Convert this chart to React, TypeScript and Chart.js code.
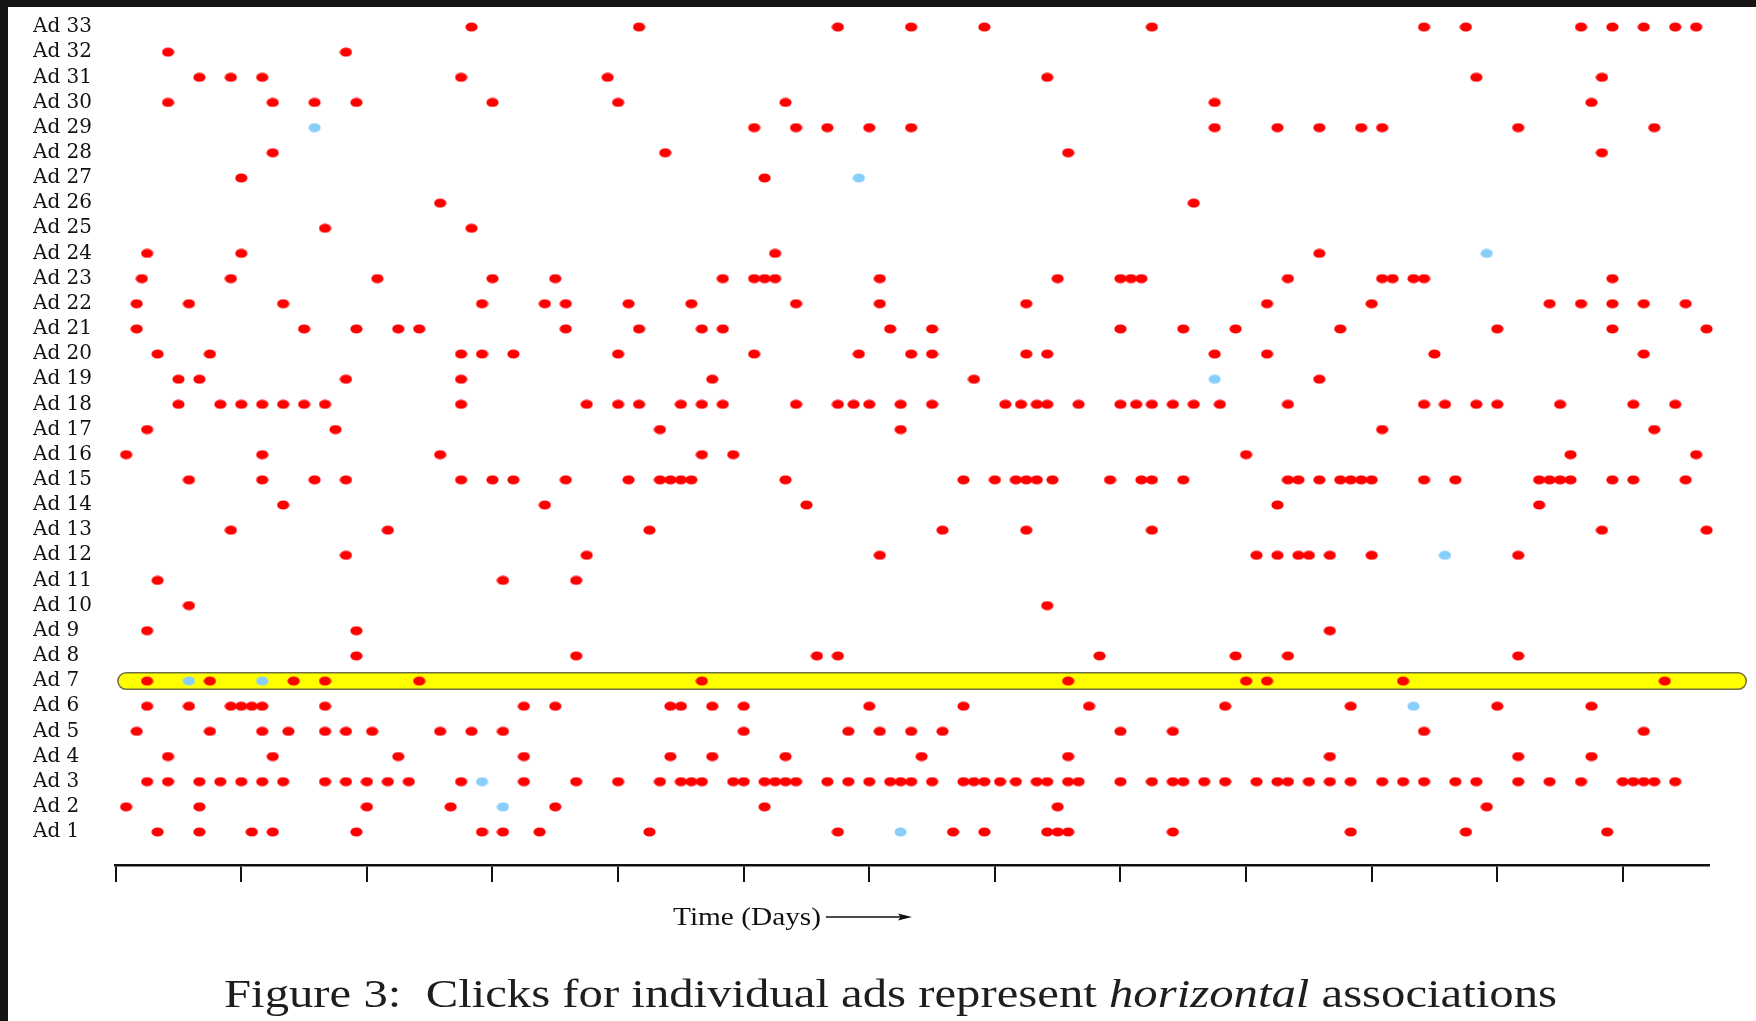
import React, { useEffect, useRef } from 'react';
import { Chart, registerables } from 'chart.js';

Chart.register(...registerables);

// Click times per ad (x in time units, a tick every 12 units)
const ad01 = [4, 8, 13, 15, 23, 35, 37, 40.5, 51, 69, 80, 83, 89, 90, 91, 101, 118, 129, 142.5];
const ad02 = [1, 8, 24, 32, 42, 62, 90, 131];
const ad03 = [3, 5, 8, 10, 12, 14, 16, 20, 22, 24, 26, 28, 33, 39, 44, 48, 52, 54, 55, 56, 59, 60, 62, 63, 64, 65, 68, 70, 72, 74, 75, 76, 78, 81, 82, 83, 84.5, 86, 88, 89, 91, 92, 96, 99, 101, 102, 104, 106, 109, 111, 112, 114, 116, 118, 121, 123, 125, 128, 130, 134, 137, 140, 144, 145, 146, 147, 149];
const ad04 = [5, 15, 27, 39, 53, 57, 64, 77, 91, 116, 134, 141];
const ad05 = [2, 9, 14, 16.5, 20, 22, 24.5, 31, 34, 37, 60, 70, 73, 76, 79, 96, 101, 125, 146];
const ad06 = [3, 7, 11, 12, 13, 14, 20, 39, 42, 53, 54, 57, 60, 72, 81, 93, 106, 118, 132, 141];
const ad07 = [3, 9, 17, 20, 29, 56, 91, 108, 110, 123, 148];
const ad08 = [23, 44, 67, 69, 94, 107, 112, 134];
const ad09 = [3, 23, 116];
const ad10 = [7, 89];
const ad11 = [4, 37, 44];
const ad12 = [22, 45, 73, 109, 111, 113, 114, 116, 120, 134];
const ad13 = [11, 26, 51, 79, 87, 99, 142, 152];
const ad14 = [16, 41, 66, 111, 136];
const ad15 = [7, 14, 19, 22, 33, 36, 38, 43, 49, 52, 53, 54, 55, 64, 81, 84, 86, 87, 88, 89.5, 95, 98, 99, 102, 112, 113, 115, 117, 118, 119, 120, 125, 128, 136, 137, 138, 139, 143, 145, 150];
const ad16 = [1, 14, 31, 56, 59, 108, 139, 151];
const ad17 = [3, 21, 52, 75, 121, 147];
const ad18 = [6, 10, 12, 14, 16, 18, 20, 33, 45, 48, 50, 54, 56, 58, 65, 69, 70.5, 72, 75, 78, 85, 86.5, 88, 89, 92, 96, 97.5, 99, 101, 103, 105.5, 112, 125, 127, 130, 132, 138, 145, 149];
const ad19 = [6, 8, 22, 33, 57, 82, 115];
const ad20 = [4, 9, 33, 35, 38, 48, 61, 71, 76, 78, 87, 89, 105, 110, 126, 146];
const ad21 = [2, 18, 23, 27, 29, 43, 50, 56, 58, 74, 78, 96, 102, 107, 117, 132, 143, 152];
const ad22 = [2, 7, 16, 35, 41, 43, 49, 55, 65, 73, 87, 110, 120, 137, 140, 143, 146, 150];
const ad23 = [2.5, 11, 25, 36, 42, 58, 61, 62, 63, 73, 90, 96, 97, 98, 112, 121, 122, 124, 125, 143];
const ad24 = [3, 12, 63, 115];
const ad25 = [20, 34];
const ad26 = [31, 103];
const ad27 = [12, 62];
const ad28 = [15, 52.5, 91, 142];
const ad29 = [61, 65, 68, 72, 76, 105, 111, 115, 119, 121, 134, 147];
const ad30 = [5, 15, 19, 23, 36, 48, 64, 105, 141];
const ad31 = [8, 11, 14, 33, 47, 89, 130, 142];
const ad32 = [5, 22];
const ad33 = [34, 50, 69, 76, 83, 99, 125, 129, 140, 143, 146, 149, 151];

const rowClicks = [ad01, ad02, ad03, ad04, ad05, ad06, ad07, ad08, ad09, ad10, ad11, ad12, ad13, ad14, ad15, ad16, ad17, ad18, ad19, ad20, ad21, ad22, ad23, ad24, ad25, ad26, ad27, ad28, ad29, ad30, ad31, ad32, ad33];

// Light-blue clicks: [ad, time]
const lightClicks: [number, number][] = [
  [29, 19], [27, 71], [24, 131], [19, 105], [12, 127], [7, 7], [7, 14], [6, 124], [3, 35], [2, 37], [1, 75],
];

const adLabels = [
  'Ad 1', 'Ad 2', 'Ad 3', 'Ad 4', 'Ad 5', 'Ad 6', 'Ad 7', 'Ad 8', 'Ad 9', 'Ad 10', 'Ad 11',
  'Ad 12', 'Ad 13', 'Ad 14', 'Ad 15', 'Ad 16', 'Ad 17', 'Ad 18', 'Ad 19', 'Ad 20', 'Ad 21', 'Ad 22',
  'Ad 23', 'Ad 24', 'Ad 25', 'Ad 26', 'Ad 27', 'Ad 28', 'Ad 29', 'Ad 30', 'Ad 31', 'Ad 32', 'Ad 33',
];

const xTicks = [0, 12, 24, 36, 48, 60, 72, 84, 96, 108, 120, 132, 144];
const highlightRow = 7;
const highlightSpan = [1, 155];

function makeDot(color: string): HTMLCanvasElement {
  const c = document.createElement('canvas');
  c.width = 13;
  c.height = 10;
  const ctx = c.getContext('2d')!;
  ctx.fillStyle = color;
  ctx.beginPath();
  ctx.ellipse(6.5, 5, 6.1, 4.6, 0, 0, Math.PI * 2);
  ctx.fill();
  return c;
}

function fitWidth(el: HTMLElement | null, target: number) {
  if (!el) return;
  el.style.transform = 'none';
  const w = el.getBoundingClientRect().width;
  if (w > 0) el.style.transform = `scaleX(${target / w})`;
}

export default function App() {
  const canvasRef = useRef<HTMLCanvasElement>(null);
  const titleRef = useRef<HTMLSpanElement>(null);
  const captionRef = useRef<HTMLSpanElement>(null);

  useEffect(() => {
    document.body.style.margin = '0';
    document.body.style.background = '#151515';
    const canvas = canvasRef.current;
    if (!canvas) return;

    const redPts = rowClicks.flatMap((times, i) => times.map((t) => ({ x: t, y: i + 1 })));
    const bluePts = lightClicks.map(([ad, t]) => ({ x: t, y: ad }));
    const bandPts = highlightSpan.map((x) => ({ x, y: highlightRow }));

    const chart = new Chart(canvas, {
      type: 'scatter',
      data: {
        datasets: [
          { label: 'clicks', data: redPts, pointStyle: makeDot('#ff0000'), pointRadius: 6, order: 0, clip: false } as any,
          { label: 'other', data: bluePts, pointStyle: makeDot('#87cefa'), pointRadius: 6, order: 1, clip: false } as any,
          {
            label: 'band', data: bandPts, showLine: true, borderColor: '#ffff00', borderWidth: 15,
            borderCapStyle: 'round', pointRadius: 0, order: 2, clip: false,
          } as any,
          {
            label: 'bandEdge', data: bandPts, showLine: true, borderColor: '#6e6e46', borderWidth: 18,
            borderCapStyle: 'round', pointRadius: 0, order: 3, clip: false,
          } as any,
        ],
      },
      options: {
        animation: false,
        responsive: false,
        events: [],
        layout: { padding: { left: 33, top: 13.4, right: 47.3, bottom: 126 } },
        plugins: { legend: { display: false }, tooltip: { enabled: false }, title: { display: false } },
        scales: {
          x: {
            type: 'linear',
            min: 0,
            max: 152.2,
            afterBuildTicks: (s: any) => { s.ticks = xTicks.map((v) => ({ value: v })); },
            afterFit: (s: any) => { s.height = 30; },
            ticks: { display: false },
            grid: { drawOnChartArea: false, drawTicks: true, tickLength: 17, color: '#111', tickColor: '#111', lineWidth: 2, tickWidth: 2 },
            border: { display: true, color: '#111', width: 2.5 },
          },
          y: {
            type: 'linear',
            min: -0.312,
            max: 33.541,
            afterBuildTicks: (s: any) => { s.ticks = adLabels.map((_, i) => ({ value: i + 1 })); },
            afterFit: (s: any) => { s.width = 82.7; },
            ticks: {
              autoSkip: false,
              crossAlign: 'far',
              padding: 0,
              color: '#111',
              font: { family: '"DejaVu Serif", serif', size: 20 },
              callback: (v: any) => adLabels[Number(v) - 1] ?? '',
            },
            grid: { display: false },
            border: { display: false },
          },
        },
      } as any,
    });

    fitWidth(titleRef.current, 148);
    fitWidth(captionRef.current, 1333);

    return () => chart.destroy();
  }, []);

  return (
    <div style={{ position: 'fixed', left: 0, top: 0, width: 1756, height: 1021, background: '#151515', overflow: 'hidden' }}>
      <div style={{ position: 'absolute', left: 8, top: 7, right: 0, bottom: 0, background: '#ffffff' }} />
      <canvas
        ref={canvasRef}
        width={1756}
        height={1021}
        style={{ position: 'absolute', left: 0, top: 0, width: 1756, height: 1021 }}
      />
      <span
        ref={titleRef}
        style={{
          position: 'absolute', left: 673, top: 904, fontFamily: '"Liberation Serif", serif', fontSize: 26,
          lineHeight: '26px', whiteSpace: 'nowrap', transformOrigin: '0 0', color: '#111',
        }}
      >
        Time (Days)
      </span>
      <svg style={{ position: 'absolute', left: 824, top: 909 }} width={92} height={16}>
        <line x1={2} y1={8} x2={78} y2={8} stroke="#111" strokeWidth={1.5} />
        <polygon points="88,8 74,4.5 76.5,8 74,11.5" fill="#111" />
      </svg>
      <span
        ref={captionRef}
        style={{
          position: 'absolute', left: 224, top: 974, fontFamily: '"Liberation Serif", serif', fontSize: 40,
          lineHeight: '40px', whiteSpace: 'nowrap', transformOrigin: '0 0', color: '#1e1e1e',
        }}
      >
        Figure 3:{'\u00a0\u00a0'}Clicks for individual ads represent <i>horizontal</i> associations
      </span>
    </div>
  );
}
